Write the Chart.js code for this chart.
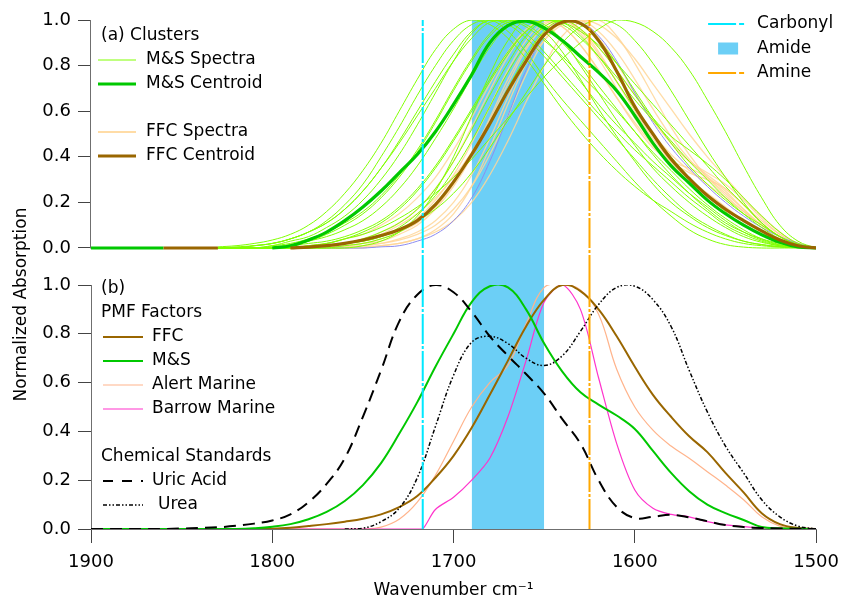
<!DOCTYPE html>
<html>
<head>
<meta charset="utf-8">
<title>Normalized Absorption</title>
<script src="https://cdn.jsdelivr.net/npm/chart.js@4.4.1/dist/chart.umd.min.js"></script>
<style>
  html, body { margin: 0; padding: 0; background: #fff; }
  canvas { display: block; }
</style>
</head>
<body>
<canvas id="chart" width="848" height="605"></canvas>
<script>
// Wavenumber grids (cm-1)
const wn = [1900, 1890, 1880, 1870, 1860, 1850, 1840, 1830, 1820, 1810, 1800, 1790, 1780, 1770,
            1760, 1750, 1740, 1730, 1720, 1710, 1700, 1690, 1680, 1670, 1660, 1650, 1640, 1630,
            1620, 1610, 1600, 1590, 1580, 1570, 1560, 1550, 1540, 1530, 1520, 1510, 1500];
const wnSpec = [1830, 1820, 1810, 1800, 1790, 1780, 1770, 1760, 1750, 1740, 1730, 1720, 1710,
                1700, 1690, 1680, 1670, 1660, 1650, 1640, 1630, 1620, 1610, 1600, 1590, 1580,
                1570, 1560, 1550, 1540, 1530, 1520, 1510, 1500];
const wnBarrow = [1900, 1720, 1717, 1710, 1700, 1690, 1680, 1670, 1660, 1650, 1640, 1630, 1620,
                  1610, 1600, 1590, 1580, 1570, 1560, 1550, 1540, 1530, 1520, 1510, 1500];

// Reference bands
const carbonylWn = 1717;
const amineWn = 1625;
const amideWn = [1690, 1650];

// (a) Clusters: individual spectra on wnSpec
const msSpectra = [
  [0, 0, .01, .02, .04, .07, .11, .17, .25, .35, .46, .58, .70, .82, .92, .99, 1.0, .97, .91, .84, .76, .68, .60, .51, .42, .34, .26, .19, .13, .08, .04, .015, .004, 0],
  [0, 0, 0, .01, .03, .05, .09, .14, .21, .30, .41, .54, .68, .82, .94, 1.0, .98, .92, .84, .75, .66, .57, .48, .39, .30, .22, .15, .10, .06, .03, .015, .006, .002, 0],
  [0, 0, 0, 0, .01, .03, .05, .08, .12, .18, .26, .36, .48, .61, .75, .88, .97, 1.0, .97, .90, .81, .71, .61, .51, .41, .32, .24, .17, .11, .07, .04, .02, .006, 0],
  [0, 0, 0, 0, 0, .01, .02, .04, .07, .11, .17, .25, .35, .47, .60, .73, .85, .95, 1.0, .98, .92, .84, .75, .65, .56, .47, .38, .30, .22, .15, .09, .04, .01, 0],
  [0, 0, 0, 0, 0, 0, .01, .02, .04, .07, .11, .17, .26, .38, .52, .67, .81, .93, 1.0, .99, .93, .84, .73, .61, .50, .40, .31, .23, .16, .10, .06, .03, .01, 0],
  [0, 0, 0, 0, 0, .01, .02, .04, .06, .09, .13, .18, .24, .31, .39, .48, .57, .66, .75, .83, .90, .96, 1.0, .99, .95, .88, .78, .65, .51, .36, .22, .10, .03, 0],
  [0, 0, .01, .02, .04, .07, .12, .19, .28, .40, .53, .67, .80, .91, .98, 1.0, .95, .86, .75, .65, .56, .47, .38, .29, .21, .14, .08, .04, .015, .004, 0, 0, 0, 0],
  [0, 0, 0, 0, 0, 0, 0, .01, .02, .04, .07, .12, .19, .29, .41, .55, .70, .84, .95, 1.0, .98, .91, .81, .69, .57, .46, .36, .28, .21, .15, .10, .05, .015, 0],
  [0, 0, 0, .01, .02, .04, .07, .11, .16, .23, .32, .43, .56, .70, .83, .94, 1.0, .98, .92, .83, .73, .63, .54, .46, .38, .31, .24, .18, .12, .07, .035, .013, .003, 0],
  [0, 0, 0, 0, .01, .02, .03, .05, .08, .12, .18, .26, .36, .48, .61, .74, .86, .95, 1.0, .99, .95, .89, .81, .72, .63, .54, .45, .36, .27, .19, .11, .05, .015, 0],
  [0, .005, .01, .02, .04, .07, .11, .17, .25, .35, .47, .60, .73, .85, .95, 1.0, .99, .94, .86, .77, .68, .59, .51, .43, .36, .29, .22, .16, .10, .06, .03, .01, .003, 0],
  [0, 0, 0, 0, 0, 0, .01, .02, .03, .05, .08, .12, .17, .24, .33, .44, .56, .68, .80, .90, .97, 1.0, .98, .91, .81, .69, .56, .43, .31, .20, .11, .05, .015, 0],
  [0, 0, 0, 0, 0, 0, 0, 0, .01, .03, .07, .14, .25, .40, .58, .76, .91, 1.0, .98, .91, .80, .68, .56, .45, .35, .27, .20, .14, .09, .05, .025, .01, .003, 0],
  [.005, .01, .02, .035, .06, .10, .16, .24, .34, .46, .60, .74, .87, .96, 1.0, .98, .92, .83, .72, .61, .51, .42, .34, .27, .21, .16, .11, .07, .04, .02, .01, .004, .001, 0],
  [0, 0, 0, 0, 0, 0, .01, .02, .03, .05, .09, .15, .23, .34, .47, .62, .77, .89, .97, 1.0, .96, .88, .78, .67, .57, .49, .43, .37, .30, .22, .14, .07, .02, 0],
  [0, 0, 0, .005, .015, .03, .06, .10, .15, .22, .31, .42, .55, .69, .82, .93, .99, 1.0, .95, .86, .74, .61, .49, .38, .28, .20, .14, .09, .055, .03, .015, .006, .002, 0]
];
const ffcSpectra = [
  [0, 0, 0, 0, 0, .005, .01, .02, .03, .05, .08, .13, .21, .32, .46, .62, .78, .91, .99, 1.0, .96, .88, .78, .67, .56, .46, .38, .32, .26, .19, .12, .06, .02, 0],
  [0, 0, 0, 0, 0, 0, 0, .005, .01, .02, .04, .07, .12, .20, .32, .48, .66, .83, .95, 1.0, 1.0, .95, .86, .74, .61, .49, .39, .31, .24, .17, .10, .05, .015, 0],
  [0, 0, 0, 0, 0, 0, .01, .02, .04, .07, .11, .17, .26, .38, .53, .69, .84, .95, 1.0, .97, .89, .78, .66, .54, .44, .38, .35, .31, .25, .17, .10, .05, .015, 0],
  [0, 0, 0, 0, 0, 0, 0, 0, .005, .01, .02, .04, .08, .15, .27, .44, .63, .81, .95, 1.0, .96, .86, .73, .60, .48, .38, .30, .23, .17, .12, .07, .035, .01, 0],
  [0, 0, 0, 0, 0, .005, .01, .02, .035, .06, .10, .15, .22, .31, .42, .55, .68, .81, .91, .98, 1.0, .98, .92, .83, .72, .61, .50, .40, .31, .22, .14, .07, .02, 0],
  [0, 0, 0, 0, 0, 0, 0, .01, .02, .03, .06, .10, .17, .27, .40, .56, .72, .87, .97, 1.0, .94, .83, .70, .57, .46, .38, .33, .30, .26, .19, .11, .05, .015, 0],
  [0, 0, 0, 0, .005, .01, .02, .04, .06, .10, .15, .22, .31, .43, .57, .72, .86, .96, 1.0, .97, .89, .78, .66, .55, .45, .37, .30, .24, .18, .12, .07, .03, .01, 0],
  [0, 0, 0, 0, 0, 0, 0, 0, 0, .01, .02, .04, .07, .12, .20, .32, .47, .64, .80, .93, .99, 1.0, .93, .81, .67, .53, .41, .31, .23, .16, .10, .05, .015, 0],
  [0, 0, 0, 0, 0, 0, .005, .01, .02, .04, .07, .11, .18, .28, .41, .57, .74, .88, .98, 1.0, .95, .85, .73, .61, .50, .41, .34, .28, .22, .16, .10, .05, .015, 0],
  [0, 0, 0, 0, 0, 0, 0, .005, .01, .02, .035, .06, .10, .17, .27, .41, .58, .76, .91, .99, 1.0, .92, .81, .68, .56, .46, .38, .33, .28, .21, .13, .06, .02, 0]
];
const otherSpectrum = [0, 0, 0, 0, 0, 0, 0, 0, 0, .005, .01, .03, .06, .12, .22, .38, .58, .78, .93, 1.0, .99, .93, .82, .68, .55, .44, .35, .27, .20, .14, .09, .05, .02, 0];

// (a) Cluster centroids on wn (null = no data)
const msCentroid = [0, 0, 0, 0, 0, null, null, null, null, null, 0, .01, .035, .07, .12, .18, .25, .33, .41, .51,
                    .63, .76, .90, .975, .995, .965, .91, .84, .77, .69, .58, .46, .36, .285, .21, .15, .10, .058, .025, .005, 0];
const ffcCentroid = [null, null, null, null, 0, 0, 0, 0, null, null, null, 0, .004, .01, .02, .035, .055, .08, .12, .19,
                     .29, .41, .545, .69, .82, .935, .99, .985, .91, .775, .62, .50, .39, .305, .23, .17, .12, .075, .035, .01, 0];

// (b) PMF factors and chemical standards on wn
const ffcFactor = [0, 0, 0, 0, 0, 0, 0, 0, 0, 0, .001, .005, .012, .02, .03, .042, .06, .09, .135, .21,
                   .30, .415, .55, .69, .83, .94, 1.0, .975, .90, .79, .665, .55, .46, .38, .315, .23, .15, .065, .02, .004, 0];
const msFactor = [0, 0, 0, 0, 0, 0, 0, 0, 0, .003, .009, .02, .04, .07, .115, .18, .27, .39, .52, .665,
                  .80, .93, .995, .99, .90, .76, .645, .56, .51, .465, .41, .32, .23, .155, .10, .065, .037, .008, .003, .001, 0];
const alertFactor = [0, 0, 0, 0, 0, 0, 0, 0, 0, 0, 0, 0, 0, 0, 0, 0, .008, .04, .11, .22,
                     .36, .50, .60, .67, .84, .99, 1.0, .98, .88, .655, .50, .405, .34, .29, .235, .18, .12, .05, .012, .002, 0];
const barrowFactor = [0, 0, 0, .08, .13, .20, .29, .46, .69, .93, 1.0, .90, .62, .35, .16, .085, .06, .05, .03, .017, .01, .004, .002, 0, 0];
const uricAcid = [0, 0, 0, 0, 0, .002, .004, .007, .013, .022, .035, .06, .11, .185, .29, .46, .65, .85, .96, 1.0,
                  .97, .89, .79, .71, .635, .555, .45, .35, .20, .09, .045, .05, .058, .048, .032, .016, .008, .004, .002, .001, 0];
const urea = [null, null, null, null, null, null, null, null, null, null, null, null, null, null, 0, .003, .03, .085, .21, .42,
              .63, .765, .79, .76, .70, .67, .71, .81, .92, .99, .995, .94, .83, .65, .48, .34, .23, .12, .05, .012, 0];

// Styles
const FONT = '"DejaVu Sans", sans-serif';
const msSpecColor = '#80FF00';
const msColor = '#00C800';
const ffcSpecColor = 'rgba(255, 214, 150, 0.85)';
const ffcColor = '#996600';
const otherColor = '#8C8CF0';
const alertColor = '#FFB48C';
const barrowColor = '#FF33CC';
const carbonylColor = '#00E8FF';
const amideColor = '#6CCFF6';
const amineColor = '#FFA800';
const axisColor = '#6f6f6f';
const refDash = [30, 2, 3, 2];

// Top panel axis min so its 0.0 line sits above the gap between the panels
const topMin = -0.1623;

function pts(xs, ys) {
  return xs.map((x, i) => ({ x: x, y: ys[i] }));
}

function curve(label, xs, ys, axis, color, width, order, extra) {
  return Object.assign({
    label: label,
    data: pts(xs, ys),
    yAxisID: axis,
    borderColor: color,
    borderWidth: width,
    pointRadius: 0,
    fill: false,
    tension: 0.4,
    order: order
  }, extra || {});
}

function straight(label, data, axis, extra) {
  return Object.assign({
    label: label,
    data: data,
    yAxisID: axis,
    pointRadius: 0,
    tension: 0,
    borderWidth: 0
  }, extra || {});
}

const datasets = [];

// Amide band across both panels
['yTop', 'yBottom'].forEach(axis => {
  datasets.push(straight('Amide', [{ x: amideWn[0], y: 1 }, { x: amideWn[1], y: 1 }], axis,
    { fill: 'start', backgroundColor: amideColor, borderColor: amideColor, order: 20 }));
});

// Spectra
ffcSpectra.forEach((s, i) => datasets.push(curve('FFC Spectra ' + (i + 1), wnSpec, s, 'yTop', ffcSpecColor, 1.3, 12)));
datasets.push(curve('Other Spectrum', wnSpec, otherSpectrum, 'yTop', otherColor, 1, 11));
msSpectra.forEach((s, i) => datasets.push(curve('M&S Spectra ' + (i + 1), wnSpec, s, 'yTop', msSpecColor, 1, 10)));

// Centroids
datasets.push(curve('M&S Centroid', wn, msCentroid, 'yTop', msColor, 3.2, 6));
datasets.push(curve('FFC Centroid', wn, ffcCentroid, 'yTop', ffcColor, 3.2, 5));

// PMF factors and standards
datasets.push(curve('Barrow Marine', wnBarrow, barrowFactor, 'yBottom', barrowColor, 1.2, 4, { tension: 0.3 }));
datasets.push(curve('Alert Marine', wn, alertFactor, 'yBottom', alertColor, 1.2, 4));
datasets.push(curve('M&S', wn, msFactor, 'yBottom', msColor, 2, 3));
datasets.push(curve('FFC', wn, ffcFactor, 'yBottom', ffcColor, 2, 3));
datasets.push(curve('Urea', wn, urea, 'yBottom', '#000', 1.5, 2, { borderDash: [4, 2, 1.5, 2, 1.5, 2] }));
datasets.push(curve('Uric Acid', wn, uricAcid, 'yBottom', '#000', 2, 2, { borderDash: [12, 7] }));

// Carbonyl and amine markers across both panels
[['Carbonyl', carbonylWn, carbonylColor], ['Amine', amineWn, amineColor]].forEach(([name, w, color]) => {
  datasets.push(straight(name, [{ x: w, y: topMin }, { x: w, y: 1 }], 'yTop',
    { borderColor: color, borderWidth: 2, borderDash: refDash, order: 0 }));
  datasets.push(straight(name, [{ x: w, y: 0 }, { x: w, y: 1 }], 'yBottom',
    { borderColor: color, borderWidth: 2, borderDash: refDash, order: 0 }));
});

// Legend contents
const legendA = [
  { text: '(a) Clusters' },
  { text: 'M&S Spectra', color: msSpecColor, width: 1 },
  { text: 'M&S Centroid', color: msColor, width: 3.2 },
  null,
  { text: 'FFC Spectra', color: ffcSpecColor, width: 2 },
  { text: 'FFC Centroid', color: ffcColor, width: 3.2 }
];
const legendB = [
  { text: '(b)' },
  { text: 'PMF Factors' },
  { text: 'FFC', color: ffcColor, width: 2 },
  { text: 'M&S', color: msColor, width: 2 },
  { text: 'Alert Marine', color: alertColor, width: 1.2 },
  { text: 'Barrow Marine', color: barrowColor, width: 1.2 },
  null,
  { text: 'Chemical Standards' },
  { text: 'Uric Acid', color: '#000', width: 2, dash: [10, 9] },
  { text: 'Urea', color: '#000', width: 1.3, dash: [4, 2, 1.5, 2, 1.5, 2], indent: 6 }
];
const legendRefs = [
  { text: 'Carbonyl', color: carbonylColor, width: 2, dash: [28, 3, 5, 3] },
  { text: 'Amide', fillColor: amideColor },
  { text: 'Amine', color: amineColor, width: 2, dash: [28, 3, 5, 3] }
];

function drawLegend(ctx, items, x, y, lineX0, lineX1, textX, rowH) {
  items.forEach((it, i) => {
    if (!it) return;
    const yy = y + i * rowH;
    if (it.color) {
      ctx.save();
      ctx.strokeStyle = it.color;
      ctx.lineWidth = it.width;
      ctx.setLineDash(it.dash || []);
      ctx.beginPath();
      ctx.moveTo(lineX0, yy);
      ctx.lineTo(lineX1, yy);
      ctx.stroke();
      ctx.restore();
    }
    if (it.fillColor) {
      ctx.fillStyle = it.fillColor;
      ctx.fillRect(lineX0 + 10, yy - 6, 20, 12);
    }
    ctx.fillStyle = '#000';
    const tx = (it.color || it.fillColor) ? textX + (it.indent || 0) : x;
    ctx.fillText(it.text, tx, yy);
  });
}

const overlay = {
  id: 'overlay',
  afterDraw(chart) {
    const ctx = chart.ctx;
    const area = chart.chartArea;
    const yT = chart.scales.yTop;
    const yB = chart.scales.yBottom;
    ctx.save();

    // left axis line of the top panel, 0 to 1 only
    ctx.strokeStyle = axisColor;
    ctx.lineWidth = 1;
    ctx.beginPath();
    ctx.moveTo(Math.round(area.left) - 0.5, Math.round(yT.getPixelForValue(1)));
    ctx.lineTo(Math.round(area.left) - 0.5, Math.round(yT.getPixelForValue(0)) + 0.5);
    ctx.stroke();

    ctx.font = '17px ' + FONT;
    ctx.textBaseline = 'middle';
    ctx.textAlign = 'left';
    drawLegend(ctx, legendA, area.left + 10, yT.getPixelForValue(1) + 16, area.left + 7, area.left + 45, area.left + 55, 24);
    drawLegend(ctx, legendB, area.left + 10, yB.getPixelForValue(1) + 4, area.left + 12, area.left + 52, area.left + 61, 24);
    drawLegend(ctx, legendRefs, area.right - 59, yT.getPixelForValue(1) + 4, area.right - 108, area.right - 69, area.right - 59, 24.5);

    // shared y axis title
    ctx.translate(22, (yT.getPixelForValue(1) + yB.getPixelForValue(0)) / 2 + 30);
    ctx.rotate(-Math.PI / 2);
    ctx.textAlign = 'center';
    ctx.font = '17px ' + FONT;
    ctx.fillText('Normalized Absorption', 0, 0);
    ctx.restore();
  }
};

const yAxis = (min, weight, showBorder) => ({
  type: 'linear',
  position: 'left',
  stack: 'panels',
  stackWeight: weight,
  min: min,
  max: 1,
  afterBuildTicks(scale) {
    scale.ticks = scale.ticks.filter(t => t.value > -1e-6);
  },
  afterFit(scale) { scale.width = 91; },
  ticks: {
    stepSize: 0.2,
    font: { family: FONT, size: 18 },
    color: '#000',
    padding: 7,
    callback: v => v.toFixed(1)
  },
  grid: { drawOnChartArea: false, drawTicks: true, tickLength: 13, color: '#444' },
  border: { display: showBorder, color: axisColor }
});

new Chart(document.getElementById('chart'), {
  type: 'line',
  data: { datasets: datasets },
  options: {
    responsive: false,
    animation: false,
    devicePixelRatio: 1,
    layout: { padding: { top: 20, right: 27, bottom: 0, left: 0 } },
    plugins: { legend: { display: false }, tooltip: { enabled: false } },
    scales: {
      x: {
        type: 'linear',
        reverse: true,
        min: 1500,
        max: 1900,
        afterFit(scale) { scale.height = 76; },
        ticks: {
          stepSize: 100,
          font: { family: FONT, size: 18 },
          color: '#000',
          padding: 9,
          maxRotation: 0,
          callback: v => String(v)
        },
        grid: { drawOnChartArea: false, drawTicks: true, tickLength: 14, color: '#444' },
        border: { color: axisColor },
        title: {
          display: true,
          text: 'Wavenumber cm\u207B\u00B9',
          font: { family: FONT, size: 17 },
          color: '#000',
          padding: { top: 0, bottom: 4 }
        }
      },
      // stacked left axes: the later one is placed on top
      yBottom: yAxis(0, 244, true),
      yTop: yAxis(topMin, 265, false)
    }
  },
  plugins: [overlay]
});
</script>
</body>
</html>
